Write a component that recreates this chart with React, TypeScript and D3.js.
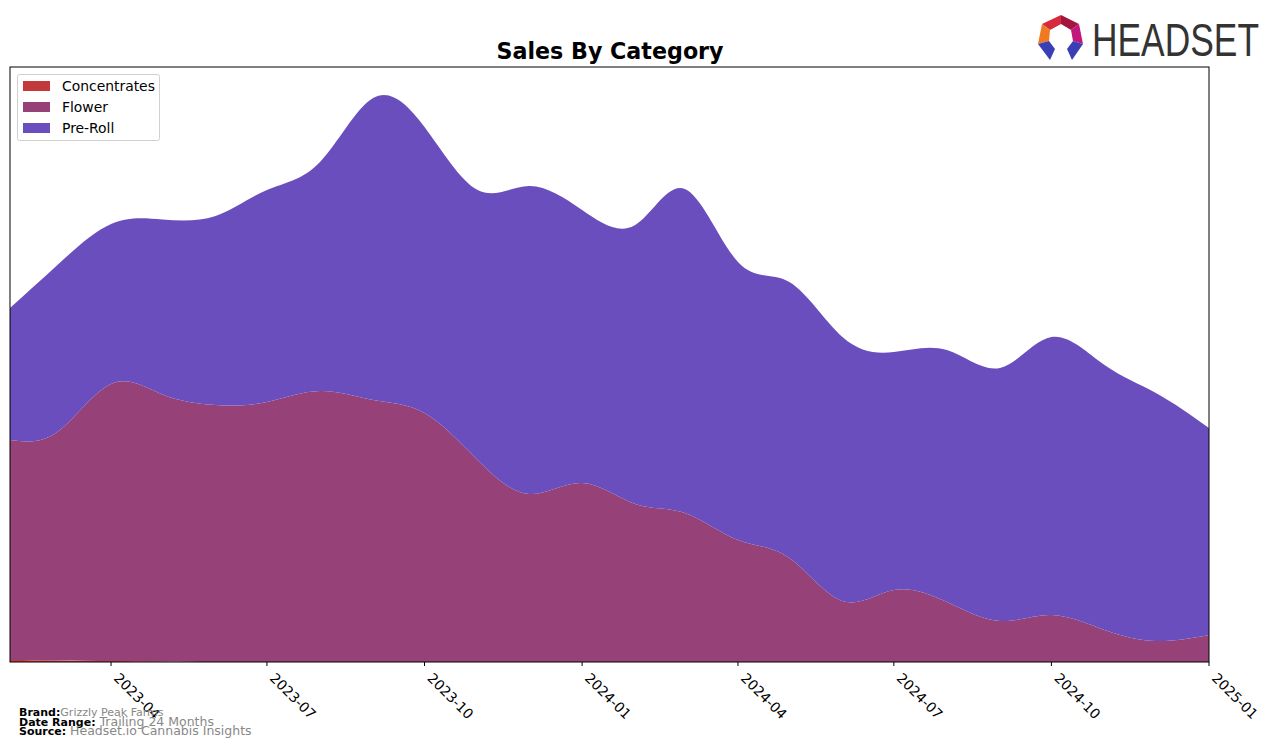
import React from "react";
import * as d3 from "d3";

const months: string[] = [
  "2023-02","2023-03","2023-04","2023-05","2023-06","2023-07","2023-08","2023-09","2023-10","2023-11","2023-12",
  "2024-01","2024-02","2024-03","2024-04","2024-05","2024-06","2024-07","2024-08","2024-09","2024-10","2024-11","2024-12",
  "2025-01",
];
const concentrates: number[] = [2, 1.5, 1, 0.5, 0, 0, 0, 0, 0, 0, 0, 0, 0, 0, 0, 0, 0, 0, 0, 0, 0, 0, 0, 0];
const flower: number[] = [220, 229, 277, 267, 257, 260, 271, 262, 249, 202, 168, 179, 158, 149, 122, 104, 61, 72, 60, 41, 47, 32, 21, 27];
const preRoll: number[] = [132, 167, 160, 175, 189, 212, 229, 302, 286, 270, 308, 273, 279, 324, 278, 276, 264, 238, 252, 253, 278, 265, 248, 207];
const tickLabels: string[] = ["2023-04","2023-07","2023-10","2024-01","2024-04","2024-07","2024-10","2025-01"];
const seriesNames: string[] = ["Concentrates", "Flower", "Pre-Roll"];
const seriesColors: string[] = ["#c3393b", "#964279", "#6a4ebd"];

const W = 1276, H = 748;
const M = { left: 10, right: 1209, top: 67, bottom: 662 };

export default function App() {
  const parse = d3.utcParse("%Y-%m");
  const rows = months.map((m, i) => ({
    date: parse(m) as Date,
    Concentrates: concentrates[i],
    Flower: flower[i],
    "Pre-Roll": preRoll[i],
  }));
  const x = d3.scaleUtc()
    .domain([parse(months[0]) as Date, parse(months[months.length - 1]) as Date])
    .range([M.left, M.right]);
  const y = d3.scaleLinear().domain([0, 595]).range([M.bottom, M.top]);
  const stack = d3.stack<any>().keys(seriesNames);
  const layers = stack(rows);
  const area = d3.area<any>()
    .x((d) => x(d.data.date))
    .y0((d) => y(d[0]))
    .y1((d) => y(d[1]))
    .curve(d3.curveNatural);
  const ticks = tickLabels.map((t) => parse(t) as Date);
  const font = "DejaVu Sans, sans-serif";

  return (
    <svg width={W} height={H} style={{ position: "absolute", left: 0, top: 0, background: "#fff" }} fontFamily={font}>
      <rect x={0} y={0} width={W} height={H} fill="#fff" />
      <defs>
        <clipPath id="plotClip">
          <rect x={M.left} y={M.top} width={M.right - M.left} height={M.bottom - M.top} />
        </clipPath>
      </defs>
      <g clipPath="url(#plotClip)">
        {layers.map((l, i) => (
          <path key={i} d={area(l) || ""} fill={seriesColors[i]} />
        ))}
      </g>
      <rect x={M.left} y={M.top} width={M.right - M.left} height={M.bottom - M.top} fill="none" stroke="#000" strokeWidth={1} />
      {ticks.map((t, i) => {
        const tx = x(t);
        return (
          <g key={i}>
            <line x1={tx} x2={tx} y1={M.bottom} y2={M.bottom + 4} stroke="#000" />
            <text x={0} y={0} fontSize={13.9} fill="#000" transform={`translate(${tx + 2},${M.bottom + 17}) rotate(45)`}>{tickLabels[i]}</text>
          </g>
        );
      })}
      <text x={610} y={59} textAnchor="middle" fontSize={22.2} fontWeight="bold">Sales By Category</text>
      <g>
        <rect x={17.5} y={74.5} width={142} height={66} fill="#fff" stroke="#d0d0d0" rx={2} />
        {seriesNames.map((n, i) => (
          <g key={n}>
            <rect x={23} y={81 + i * 21} width={27} height={10} fill={seriesColors[i]} />
            <text x={62} y={91 + i * 21} fontSize={13.9}>{n}</text>
          </g>
        ))}
      </g>
      <g fontSize={11}>
        <text x={19} y={716}><tspan fontWeight="bold">Brand:</tspan><tspan fill="#888" fontSize={11}>Grizzly Peak Farms</tspan></text>
        <text x={19} y={726}><tspan fontWeight="bold">Date Range:</tspan><tspan fill="#888" fontSize={12.5}> Trailing 24 Months</tspan></text>
        <text x={19} y={735}><tspan fontWeight="bold">Source:</tspan><tspan fill="#888" fontSize={12.5}> Headset.io Cannabis Insights</tspan></text>
      </g>
      <g>
        <polygon points="1042,24 1061,15 1061,24 1050,30" fill="#d62b3c" />
        <polygon points="1061,15 1079,24 1071,30 1061,24" fill="#a3153f" />
        <polygon points="1042,24 1050,30 1049,41 1038,44" fill="#f07a22" />
        <polygon points="1079,24 1083,44 1073,41 1071,30" fill="#c2177d" />
        <polygon points="1038,44 1049,41 1055,49 1050,60" fill="#3b3fb5" />
        <polygon points="1083,44 1073,41 1067,49 1072,60" fill="#3b3fb5" />
        <text x={1092} y={56} fontSize={46} fill="#333" textLength={167} lengthAdjust="spacingAndGlyphs" fontFamily="Liberation Sans, Arial, sans-serif">HEADSET</text>
      </g>
    </svg>
  );
}
